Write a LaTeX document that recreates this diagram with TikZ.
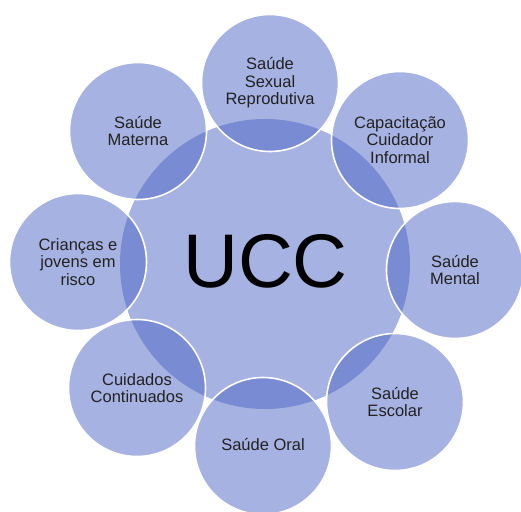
\documentclass[tikz,border=0pt]{standalone}
\usepackage{fontspec}
\setmainfont{Liberation Sans}
\definecolor{ringblue}{HTML}{4E66C4}
\definecolor{labelgray}{HTML}{222222}
\tikzset{
  hub/.style={circle, minimum size=290pt, inner sep=0pt, fill=ringblue, fill opacity=0.5, text opacity=1, text=black},
  petal/.style={circle, minimum size=137pt, inner sep=0pt, fill=ringblue, fill opacity=0.5, draw=white, draw opacity=1, line width=1.6pt, text opacity=1, text=labelgray, align=center, font=\fontsize{16.5}{17.5}\selectfont}
}
\begin{document}
\begin{tikzpicture}[x=1pt,y=-1pt]
\useasboundingbox (0,0) rectangle (521,511);
\clip (0,0) rectangle (521,511);
\fill[white] (0,0) rectangle (521,511);
\node[hub] (ucc) at (265,264) {};
\node[text=black, font=\fontsize{76}{78}\selectfont, inner sep=0pt] (ucclabel) at (265.5,261) {UCC};
\node[petal] (ssr) at (270,83) {Saúde\\Sexual\\Reprodutiva};
\node[petal] (cap) at (400,140) {Capacitação\\Cuidador\\Informal};
\node[petal] (men) at (455,270) {Saúde\\Mental};
\node[petal] (esc) at (395,402) {Saúde\\Escolar};
\node[petal] (ora) at (263,446) {\raisebox{4pt}{Saúde Oral}};
\node[petal] (cui) at (137,388) {Cuidados\\Continuados};
\node[petal] (cri) at (78,262) {Crianças e\\jovens em\\risco};
\node[petal] (mat) at (138,131) {Saúde\\Materna};
\end{tikzpicture}
\end{document}
